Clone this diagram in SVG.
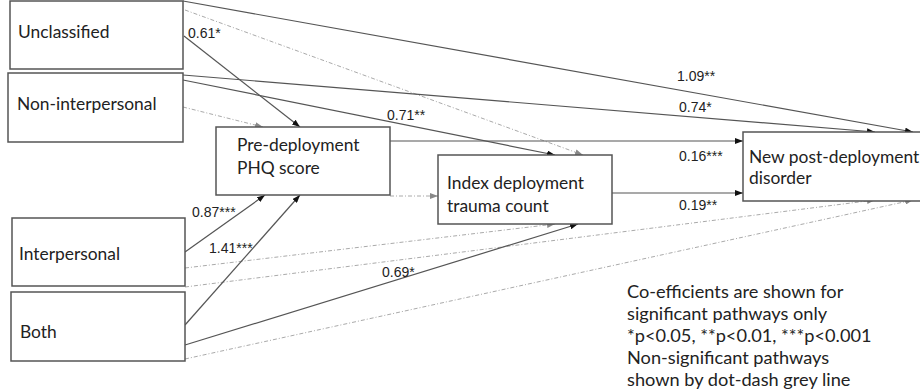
<svg xmlns="http://www.w3.org/2000/svg" width="920" height="390" viewBox="0 0 920 390">
<defs>
<style>
.box{fill:#fff;stroke:#555;stroke-width:1.5}
.lbl{font-family:Lato,"Open Sans",sans-serif;font-size:17.4px;fill:#222}
.leg{font-family:Lato,"Open Sans",sans-serif;font-size:18.2px;fill:#222}
.coef{font-family:"Liberation Sans",Arial,sans-serif;font-size:14px;fill:#222}
.sol{fill:none;stroke:#555;stroke-width:1.2;marker-end:url(#ah)}
.dash{fill:none;stroke:#aaa;stroke-width:1;stroke-dasharray:4 2 1 2;marker-end:url(#ahg)}
</style>
<marker id="ah" viewBox="0 0 8 6" refX="8" refY="3" markerWidth="8" markerHeight="6" markerUnits="userSpaceOnUse" orient="auto"><path d="M0,0L8,3L0,6z" fill="#111"/></marker>
<marker id="ahg" viewBox="0 0 8 6" refX="8" refY="3" markerWidth="8" markerHeight="6" markerUnits="userSpaceOnUse" orient="auto"><path d="M0,0L8,3L0,6z" fill="#888"/></marker>
</defs>
<rect width="920" height="390" fill="#fff"/>
<g id="connectors">
<path class="dash" d="M185,10L583,155"/>
<path class="dash" d="M183,107L263,127"/>
<path class="dash" d="M390,196L438,196"/>
<path class="dash" d="M185,268L555,224"/>
<path class="dash" d="M185,287L875,200"/>
<path class="dash" d="M185,359L913,200"/>
<path class="sol" d="M183,1L913,132"/>
<path class="sol" d="M183,75L875,132"/>
<path class="sol" d="M183,80L555,155"/>
<path class="sol" d="M184,36L300,127"/>
<path class="sol" d="M390,141L743,141"/>
<path class="sol" d="M612,193L743,193"/>
<path class="sol" d="M185,252L265,195"/>
<path class="sol" d="M185,325L300,195"/>
<path class="sol" d="M185,345L578,224"/>
</g>
<g id="unclassified"><rect class="box" x="10" y="1" width="173" height="68"/><text class="lbl" x="18" y="38">Unclassified</text></g>
<g id="noninterpersonal"><rect class="box" x="8" y="73" width="175" height="69"/><text class="lbl" x="17" y="110">Non-interpersonal</text></g>
<g id="interpersonal"><rect class="box" x="12" y="218" width="173" height="68"/><text class="lbl" x="19" y="260">Interpersonal</text></g>
<g id="both"><rect class="box" x="11" y="292" width="174" height="69"/><text class="lbl" x="20" y="338">Both</text></g>
<g id="phq"><rect class="box" x="216" y="127" width="174" height="68"/><text class="lbl" x="237" y="151">Pre-deployment</text><text class="lbl" x="237" y="174">PHQ score</text></g>
<g id="index"><rect class="box" x="438" y="155" width="174" height="69"/><text class="lbl" x="447" y="189">Index deployment</text><text class="lbl" x="447" y="212">trauma count</text></g>
<g id="newpost"><rect class="box" x="743" y="132" width="200" height="69"/><text class="lbl" x="749" y="163">New post-deployment</text><text class="lbl" x="749" y="184">disorder</text></g>
<g id="coefficients">
<text class="coef" x="188" y="38">0.61*</text>
<text class="coef" x="387" y="120">0.71**</text>
<text class="coef" x="677" y="81">1.09**</text>
<text class="coef" x="679" y="112">0.74*</text>
<text class="coef" x="679" y="161">0.16***</text>
<text class="coef" x="679" y="210">0.19**</text>
<text class="coef" x="192" y="217">0.87***</text>
<text class="coef" x="209" y="253">1.41***</text>
<text class="coef" x="382" y="277">0.69*</text>
</g>
<g id="legend" class="leg">
<text x="627" y="298">Co-efficients are shown for</text>
<text x="627" y="320">significant pathways only</text>
<text x="627" y="342">*p&lt;0.05, **p&lt;0.01, ***p&lt;0.001</text>
<text x="627" y="364">Non-significant pathways</text>
<text x="627" y="386">shown by dot-dash grey line</text>
</g>
</svg>
